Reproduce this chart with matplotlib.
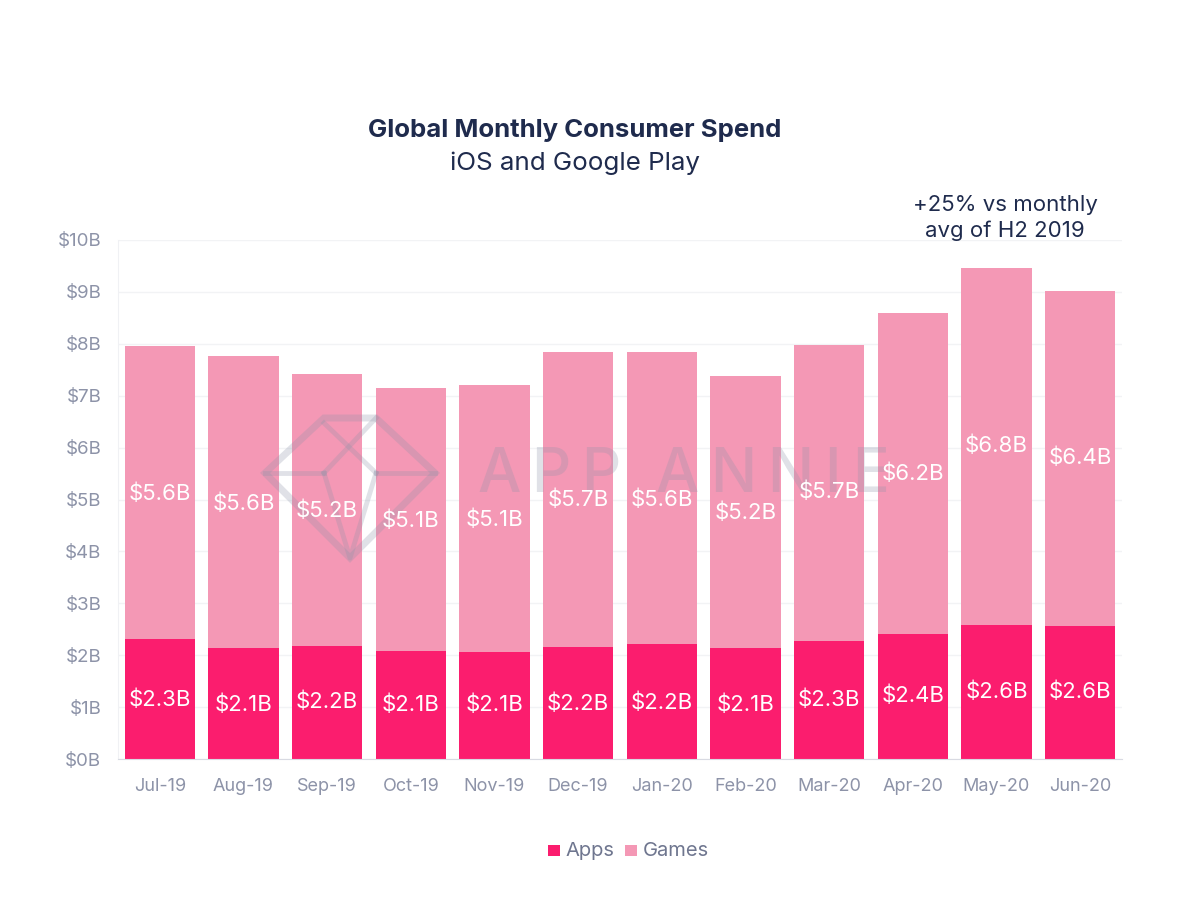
import matplotlib
matplotlib.use("Agg")
import matplotlib.pyplot as plt
from matplotlib.patches import Polygon, Rectangle

months = ["Jul-19","Aug-19","Sep-19","Oct-19","Nov-19","Dec-19","Jan-20","Feb-20","Mar-20","Apr-20","May-20","Jun-20"]
apps = [2.31,2.13,2.18,2.08,2.07,2.15,2.21,2.13,2.28,2.41,2.59,2.56]
games = [5.65,5.63,5.24,5.07,5.13,5.70,5.64,5.25,5.70,6.18,6.87,6.45]
app_labels = ["$2.3B","$2.1B","$2.2B","$2.1B","$2.1B","$2.2B","$2.2B","$2.1B","$2.3B","$2.4B","$2.6B","$2.6B"]
game_labels = ["$5.6B","$5.6B","$5.2B","$5.1B","$5.1B","$5.7B","$5.6B","$5.2B","$5.7B","$6.2B","$6.8B","$6.4B"]
app_label_pos = [1.15,1.04,1.10,1.04,1.04,1.06,1.08,1.04,1.14,1.21,1.29,1.29]
game_label_pos = [5.11,4.92,4.79,4.59,4.61,5.00,5.00,4.75,5.15,5.50,6.04,5.81]
yticks = list(range(0,11))

plt.rcParams['font.family'] = ['Inter','DejaVu Sans']
APP='#FB1D6E'; GAME='#F498B5'; TICK='#8D93A8'; DARK='#1F2B4D'

fig = plt.figure(figsize=(12,9.14),dpi=100)
rect = [118/1200,1-759/914,(1122-118)/1200,(759-240)/914]
ax = fig.add_axes(rect)
x = range(len(months))
ax.set_axisbelow(True)
ax.grid(axis='y',color='#F2F3F5',lw=1)
ax.bar(x,apps,width=0.84,color=APP)
ax.bar(x,games,width=0.84,bottom=apps,color=GAME)
ax.set_xlim(-0.5,11.5); ax.set_ylim(0,10)
ax.set_yticks(yticks,[f"${v}B" for v in yticks],fontsize=13.5,color=TICK)
ax.set_xticks(list(x),months,fontsize=13,color=TICK)
ax.tick_params(axis='y',length=0,pad=12)
ax.tick_params(axis='x',length=0,pad=14)
for s in ['top','right']: ax.spines[s].set_visible(False)
ax.spines['left'].set_color('#F0F1F4'); ax.spines['bottom'].set_color('#D8DAE2')

# watermark overlay in pixel coordinates
wm = dict(color='#8D93A8',alpha=0.27)
fa = fig.add_axes([0,0,1,1],facecolor='none'); fa.set_xlim(0,1200); fa.set_ylim(914,0); fa.axis('off'); fa.set_zorder(3)
fa.add_patch(Polygon([(324,418),(376,418),(435,473),(350,558),(265,473)],closed=True,fill=False,ec='#8D93A8',alpha=0.27,lw=5))
fa.plot([265,324],[473,473],lw=3.5,**wm)
fa.plot([376,435],[473,473],lw=3.5,**wm)
fa.plot([324,376],[423,473],lw=3.5,**wm)
fa.plot([376,324],[418,473],lw=3.5,**wm)
fa.plot([324,350,376],[473,558,473],lw=3.5,**wm)
pen = 477.0
r = fig.canvas.get_renderer()
for ch in "APP ANNIE":
    if ch == " ":
        pen += 24
        continue
    t = fa.text(pen,476,ch,fontsize=44,va='center',ha='left',color='#8D93A8',alpha=0.27,fontweight='medium')
    pen += t.get_window_extent(r).width + 11

# value labels above the watermark
la = fig.add_axes(rect,facecolor='none'); la.set_xlim(-0.5,11.5); la.set_ylim(0,10); la.axis('off'); la.set_zorder(4)
for i in x:
    la.text(i,app_label_pos[i],app_labels[i],color='white',fontsize=16,ha='center',va='center')
    la.text(i,game_label_pos[i],game_labels[i],color='white',fontsize=16,ha='center',va='center')

fig.text(575/1200,1-130/914,"Global Monthly Consumer Spend",fontsize=18.5,fontweight='bold',color=DARK,ha='center',va='center')
fig.text(575/1200,1-163/914,"iOS and Google Play",fontsize=18.7,color=DARK,ha='center',va='center')
fig.text(1005/1200,1-218/914,"+25% vs monthly\navg of H2 2019",fontsize=16,color=DARK,ha='center',va='center',linespacing=1.3)

for x0,c in [(548,APP),(625,GAME)]:
    fa.add_patch(Rectangle((x0,845),12,11,color=c,lw=0))
fa.text(565,851,"Apps",fontsize=14.5,color='#6F768F',va='center')
fa.text(643,851,"Games",fontsize=14.5,color='#6F768F',va='center')
fig.savefig("out.png",dpi=100)
